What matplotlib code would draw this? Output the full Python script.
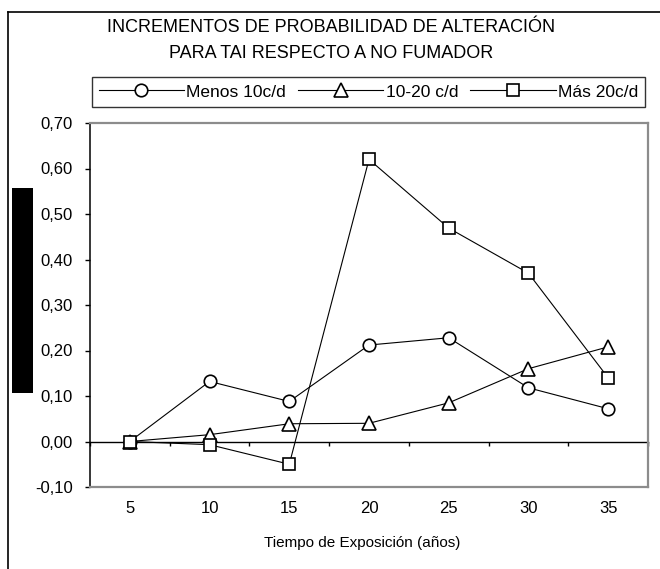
import numpy as np
import matplotlib
matplotlib.use("Agg")
import matplotlib.pyplot as plt
from matplotlib.lines import Line2D
from matplotlib.patches import Rectangle
from matplotlib.ticker import FuncFormatter

# exposure time categories (years)
years = ["5", "10", "15", "20", "25", "30", "35"]

# probability increments by cigarettes per day
menos_10 = [0.00, 0.132, 0.088, 0.212, 0.228, 0.118, 0.072]
de_10_20 = [0.00, 0.015, 0.039, 0.040, 0.085, 0.160, 0.208]
mas_20 = [0.00, -0.007, -0.050, 0.620, 0.469, 0.370, 0.140]

series_labels = ["Menos 10c/d", "10-20 c/d", "Más 20c/d"]
y_ticks = [-0.10, 0.00, 0.10, 0.20, 0.30, 0.40, 0.50, 0.60, 0.70]

plt.rcParams["font.family"] = ["Liberation Sans", "DejaVu Sans"]

W, H = 660, 569
fig = plt.figure(figsize=(W / 100, H / 100), dpi=100)
fig.patch.set_facecolor("white")


def fx(px):
    return px / W


def fy(py):
    return 1 - py / H


ax = fig.add_axes([fx(90), fy(487), fx(648) - fx(90), fy(123) - fy(487)])

x = np.arange(len(years))
marker_style = dict(color="black", linewidth=0.8, markerfacecolor="white",
                    markeredgecolor="black", markeredgewidth=1.2)
ax.plot(x, menos_10, marker="o", markersize=9, label=series_labels[0], **marker_style)
ax.plot(x, de_10_20, marker="^", markersize=10, label=series_labels[1], **marker_style)
ax.plot(x, mas_20, marker="s", markersize=8.5, label=series_labels[2], **marker_style)

ax.set_xlim(-0.5, len(years) - 0.5)
ax.set_ylim(-0.10, 0.70)

# plot-area border in grey, value axis in black
for side in ("top", "right", "bottom"):
    ax.spines[side].set_color("#8c8c8c")
    ax.spines[side].set_linewidth(1.6)
ax.spines["left"].set_color("black")
ax.spines["left"].set_linewidth(1.1)

ax.set_yticks(y_ticks)
ax.yaxis.set_major_formatter(FuncFormatter(lambda v, _: f"{round(v, 2):.2f}".replace(".", ",")))
ax.tick_params(axis="y", direction="out", length=3.5, width=1, pad=9, labelsize=12)

ax.set_xticks(x)
ax.set_xticklabels(years)
ax.tick_params(axis="x", length=0, pad=10, labelsize=12)

# category axis crossing at zero, with ticks between categories
zero_pos = (0 - (-0.10)) / (0.70 - (-0.10))
cat_axis = ax.secondary_xaxis(zero_pos)
cat_axis.set_xticks(np.arange(-0.5, len(years), 1.0))
cat_axis.set_xticklabels([])
cat_axis.spines["bottom"].set_linewidth(1.0)
cat_axis.tick_params(axis="x", direction="out", length=3, width=1)

fig.text(fx(362), fy(543), "Tiempo de Exposición (años)", ha="center", va="center", fontsize=11)

fig.text(fx(331), fy(28), "INCREMENTOS DE PROBABILIDAD DE ALTERACIÓN",
         ha="center", va="center", fontsize=13)
fig.text(fx(331), fy(53), "PARA TAI RESPECTO A NO FUMADOR",
         ha="center", va="center", fontsize=13)

leg = fig.legend(loc="center", bbox_to_anchor=(fx(368.5), fy(92)), ncol=3,
                 fontsize=12.5, frameon=True, fancybox=False, numpoints=1,
                 handlelength=4.9, handletextpad=0.15, columnspacing=0.7,
                 borderpad=0.4, borderaxespad=0)
leg.get_frame().set_edgecolor("black")
leg.get_frame().set_linewidth(1.0)

# outer chart frame (left and top edges)
fig.add_artist(Line2D([fx(8), fx(8)], [0, fy(12)], transform=fig.transFigure,
                      color="black", linewidth=1.2))
fig.add_artist(Line2D([fx(8), 1], [fy(12), fy(12)], transform=fig.transFigure,
                      color="black", linewidth=1.2))

# blacked-out axis title block
fig.add_artist(Rectangle((fx(12), fy(393)), fx(33) - fx(12), fy(188) - fy(393),
                         transform=fig.transFigure, facecolor="black", edgecolor="none"))

fig.savefig("out.png", dpi=100)
